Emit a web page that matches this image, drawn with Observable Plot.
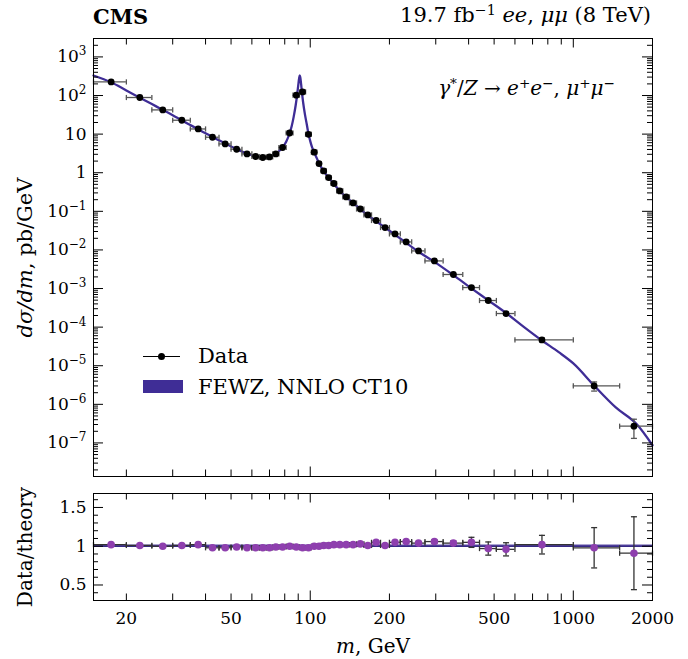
<!DOCTYPE html>
<html><head><meta charset="utf-8">
<script src="https://cdn.jsdelivr.net/npm/d3@7"></script>
<script src="https://cdn.jsdelivr.net/npm/@observablehq/plot@0.6"></script>
<style>
body{margin:0;background:#fff;}
#wrap{position:relative;width:688px;height:659px;font-family:"DejaVu Serif",serif;color:#000;overflow:hidden;}
#wrap svg{display:block}
.ov{position:absolute;white-space:nowrap;line-height:1;}
sup{font-size:0.68em;vertical-align:0.5em;line-height:0;}
#hdr{position:relative;height:28px;}
</style></head>
<body><div id="wrap">
<div id="hdr">
  <span class="ov" style="left:93px;top:6px;font-weight:bold;font-size:21px;">CMS</span>
  <span class="ov" style="right:37px;top:5px;font-size:21px;">19.7 fb<sup>−1</sup> <i>ee</i>, <i>μμ</i> (8 TeV)</span>
</div>
<div id="top"></div>
<div id="bot"></div>
<div class="ov" style="right:73px;top:78px;font-size:20px;"><i>γ</i><sup>*</sup>/<i>Z</i> → <i>e</i><sup>+</sup><i>e</i><sup>−</sup>, <i>μ</i><sup>+</sup><i>μ</i><sup>−</sup></div>
<div class="ov" style="left:143px;top:356px;width:37px;height:0;border-top:1.5px solid #000;"></div>
<div class="ov" style="left:158px;top:353px;width:7px;height:7px;border-radius:50%;background:#000;"></div>
<div class="ov" style="left:198px;top:346px;font-size:21px;">Data</div>
<div class="ov" style="left:143px;top:380px;width:40px;height:13px;background:#3f2d96;"></div>
<div class="ov" style="left:198px;top:377px;font-size:21px;">FEWZ, NNLO CT10</div>
</div>
<script>
// ---------------- data ----------------
const binEdges = [15,20,25,30,35,40,45,50,55,60,64,68,72,76,81,86,91,96,101,106,110,115,120,126,133,141,150,160,171,185,200,220,243,273,320,380,440,510,600,1000,1500,2000];
const binCenter = [17.5,22.5,27.5,32.5,37.5,42.5,47.5,52.5,57.5,62,66,70,74,78.5,83.5,88.5,93.5,98.5,103.5,108,112.5,117.5,123,129.5,137,145.5,155,165.5,178,192.5,210,231.5,258,296.5,350,410,475,555,760,1200,1700];
const xsecData = [225,88.8,42.4,22.9,13.6,8.3,5.57,4.06,3.07,2.63,2.48,2.57,3.07,4.5,10.7,102,124,9.9,3.4,1.73,1.11,0.75,0.525,0.338,0.236,0.165,0.115,0.0807,0.0578,0.038,0.026,0.0161,0.00942,0.00519,0.00231,0.00106,4.89e-4,2.25e-4,4.66e-5,3.0e-6,2.71e-7];
const ratioData = [1.02,1.01,1.00,1.01,1.02,0.98,0.98,0.99,0.98,0.98,0.98,0.98,0.99,0.99,1.00,0.99,0.98,0.98,1.00,1.00,1.01,1.01,1.02,1.02,1.02,1.02,1.03,1.01,1.05,1.01,1.05,1.06,1.04,1.06,1.04,1.05,0.97,0.96,1.02,0.98,0.91];
const ratioErr = [0.015,0.015,0.015,0.015,0.015,0.015,0.015,0.015,0.015,0.015,0.015,0.015,0.015,0.015,0.015,0.015,0.015,0.015,0.015,0.015,0.015,0.015,0.015,0.015,0.015,0.015,0.015,0.015,0.02,0.02,0.02,0.02,0.02,0.025,0.03,0.065,0.085,0.085,0.12,0.26,0.47];
const theoryMass = [15,17.5,20,22.5,25,27.5,30,32.5,35,37.5,40,42.5,45,47.5,50,52.5,55,57.5,60,62,64,66,68,70,72,74,76,78.5,81,83.5,85,86.5,88,89,90,90.8,91.2,91.6,92.3,93,94,95.5,97,98.5,100,101.5,103.5,106,108,110,112.5,117.5,123,129.5,137,145.5,155,165.5,178,192.5,210,231.5,258,296.5,350,410,475,555,650,760,880,1000,1200,1450,1750,2000];
const theoryXsec = [330,220,135,88,60,42.4,31,22.7,17.2,13.3,10.5,8.5,6.9,5.7,4.8,4.1,3.55,3.13,2.85,2.68,2.58,2.53,2.53,2.62,2.8,3.1,3.6,4.55,6.3,10.7,16,28,55,95,180,290,330,300,200,120,65,32,18,10,6.6,4.7,3.4,2.35,1.75,1.4,1.1,0.74,0.515,0.335,0.235,0.165,0.114,0.079,0.0555,0.038,0.0248,0.0153,0.009,0.0049,0.00222,0.00101,4.95e-4,2.32e-4,1.0e-4,4.5e-5,2.25e-5,1.15e-5,3.05e-6,8.3e-7,2.95e-7,8.7e-8];
const yTicksTop = [1e-7,1e-6,1e-5,1e-4,1e-3,1e-2,1e-1,1,10,100,1000];
const yTickLabelsTop = ["10^−7","10^−6","10^−5","10^−4","10^−3","10^−2","10^−1","1","10","10^2","10^3"];
const xTickLabels = [20,50,100,200,500,1000,2000];
const xMinorMarks = [20,30,40,50,60,70,80,90,200,300,400,500,600,700,800,900];
const xMajorMarks = [100,1000];
const yTicksRatio = [0.5,1,1.5];
const yTickLabelsRatio = ["0.5","1","1.5"];
const yMinorRatio = [0.4,0.6,0.7,0.8,0.9,1.1,1.2,1.3,1.4,1.6];
const ratioBand = [0.985,1.015];

// ---------------- layout ----------------
const W = 688, mL = 93, mR = 36;
const frameW = W - mL - mR;
const xDomain = [15, 2000];
const yDomainTop = [1.35e-8, 3000];
const yDomainRatio = [0.3, 1.68];
const FONT = "DejaVu Serif";
const theoryColor = "#3f2d96";
const purple = "#8e3fae";

const bins = binCenter.map((m, i) => ({
  m, lo: binEdges[i], hi: binEdges[i + 1],
  v: xsecData[i], r: ratioData[i],
  vlo: xsecData[i] * (1 - ratioErr[i] / ratioData[i]),
  vhi: xsecData[i] * (1 + ratioErr[i] / ratioData[i]),
  rlo: ratioData[i] - ratioErr[i], rhi: ratioData[i] + ratioErr[i]
}));
const theory = theoryMass.map((m, i) => ({m, v: theoryXsec[i]}));

const yMinorTop = [];
for (let k = -8; k <= 3; k++) for (let j = 2; j <= 9; j++) {
  const v = j * Math.pow(10, k);
  if (v >= yDomainTop[0] && v <= yDomainTop[1]) yMinorTop.push(v);
}

const vCap = {draw(ctx, size) { const h = Math.sqrt(size / Math.PI); ctx.moveTo(0, -h); ctx.lineTo(0, h); }};
const hCap = {draw(ctx, size) { const h = Math.sqrt(size / Math.PI); ctx.moveTo(-h, 0); ctx.lineTo(h, 0); }};

function frameTicks(frameH, yMajor, yMinor) {
  return [
    Plot.tickY(yMajor, {y: d => d, insetRight: frameW - 10, stroke: "black"}),
    Plot.tickY(yMajor, {y: d => d, insetLeft: frameW - 10, stroke: "black"}),
    Plot.tickY(yMinor, {y: d => d, insetRight: frameW - 5, stroke: "black"}),
    Plot.tickY(yMinor, {y: d => d, insetLeft: frameW - 5, stroke: "black"}),
    Plot.tickX(xMinorMarks, {x: d => d, insetTop: frameH - 6.5, stroke: "black"}),
    Plot.tickX(xMinorMarks, {x: d => d, insetBottom: frameH - 6.5, stroke: "black"}),
    Plot.tickX(xMajorMarks, {x: d => d, insetTop: frameH - 9.5, stroke: "black"}),
    Plot.tickX(xMajorMarks, {x: d => d, insetBottom: frameH - 9.5, stroke: "black"}),
  ];
}

// ---------------- top panel ----------------
const topH = 450, topMT = 10, topMB = 2;
const topPlot = Plot.plot({
  width: W, height: topH, marginLeft: mL, marginRight: mR, marginTop: topMT, marginBottom: topMB,
  style: {fontFamily: FONT, fontSize: "17px", background: "white", color: "black"},
  x: {type: "log", domain: xDomain, axis: null},
  y: {type: "log", domain: yDomainTop, ticks: yTicksTop, tickSize: 0, tickPadding: 7,
      tickFormat: d => yTickLabelsTop[yTicksTop.indexOf(d)] ?? "",
      label: "dσ/dm, pb/GeV", labelAnchor: "center", labelOffset: 76},
  marks: [
    Plot.line(theory, {x: "m", y: "v", stroke: theoryColor, strokeWidth: 2.3, curve: "monotone-x"}),
    Plot.ruleY(bins, {y: "v", x1: "lo", x2: "hi", stroke: "#555", strokeWidth: 1.3}),
    Plot.dot(bins, {x: "lo", y: "v", symbol: vCap, r: 2.6, stroke: "#555", fill: "none", strokeWidth: 1.3}),
    Plot.dot(bins, {x: "hi", y: "v", symbol: vCap, r: 2.6, stroke: "#555", fill: "none", strokeWidth: 1.3}),
    Plot.ruleX(bins, {x: "m", y1: "vlo", y2: "vhi", stroke: "#555", strokeWidth: 1.3}),
    Plot.dot(bins, {x: "m", y: "vlo", symbol: hCap, r: 3, stroke: "#555", fill: "none", strokeWidth: 1.3}),
    Plot.dot(bins, {x: "m", y: "vhi", symbol: hCap, r: 3, stroke: "#555", fill: "none", strokeWidth: 1.3}),
    Plot.dot(bins, {x: "m", y: "v", r: 3.4, fill: "black", stroke: "none"}),
    ...frameTicks(topH - topMT - topMB, yTicksTop, yMinorTop),
    Plot.frame({stroke: "black", strokeWidth: 1})
  ]
});
document.getElementById("top").appendChild(topPlot);

// ---------------- ratio panel ----------------
const botH = 181, botMT = 15, botMB = 59;
const botPlot = Plot.plot({
  width: W, height: botH, marginLeft: mL, marginRight: mR, marginTop: botMT, marginBottom: botMB,
  style: {fontFamily: FONT, fontSize: "17px", background: "white", color: "black", overflow: "visible"},
  x: {type: "log", domain: xDomain, ticks: xTickLabels, tickFormat: d => String(d), tickSize: 0, tickPadding: 11,
      label: "m, GeV", labelAnchor: "center", labelOffset: 52},
  y: {domain: yDomainRatio, ticks: yTicksRatio, tickSize: 0, tickPadding: 7,
      tickFormat: d => yTickLabelsRatio[yTicksRatio.indexOf(d)] ?? "",
      label: "Data/theory", labelAnchor: "center", labelOffset: 76},
  marks: [
    Plot.areaY(xDomain, {x: d => d, y1: () => ratioBand[0], y2: () => ratioBand[1], fill: theoryColor, fillOpacity: 0.85}),
    Plot.ruleY([1], {stroke: "#2a1d7a", strokeWidth: 1}),
    Plot.ruleY(bins, {y: "r", x1: "lo", x2: "hi", stroke: "#333", strokeWidth: 1.3}),
    Plot.dot(bins, {x: "lo", y: "r", symbol: vCap, r: 2.6, stroke: "#333", fill: "none", strokeWidth: 1.3}),
    Plot.dot(bins, {x: "hi", y: "r", symbol: vCap, r: 2.6, stroke: "#333", fill: "none", strokeWidth: 1.3}),
    Plot.ruleX(bins, {x: "m", y1: "rlo", y2: "rhi", stroke: "#333", strokeWidth: 1.3}),
    Plot.dot(bins, {x: "m", y: "rlo", symbol: hCap, r: 3, stroke: "#333", fill: "none", strokeWidth: 1.3}),
    Plot.dot(bins, {x: "m", y: "rhi", symbol: hCap, r: 3, stroke: "#333", fill: "none", strokeWidth: 1.3}),
    Plot.dot(bins, {x: "m", y: "r", r: 3.8, fill: purple, stroke: "none"}),
    ...frameTicks(botH - botMT - botMB, yTicksRatio, yMinorRatio),
    Plot.frame({stroke: "black", strokeWidth: 1})
  ]
});
document.getElementById("bot").appendChild(botPlot);

// ---------------- typography post-processing ----------------
const NS = "http://www.w3.org/2000/svg";
function rich(el, parts, size) {
  el.textContent = "";
  if (size) el.setAttribute("font-size", size);
  for (const p of parts) {
    const ts = document.createElementNS(NS, "tspan");
    ts.textContent = p.t;
    if (p.i) ts.setAttribute("font-style", "italic");
    if (p.sup) { ts.setAttribute("font-size", "12px"); ts.setAttribute("dy", "-7"); }
    el.appendChild(ts);
  }
}
for (const svg of [topPlot, botPlot]) {
  for (const t of svg.querySelectorAll("text")) {
    const s = t.textContent;
    if (s.includes("^")) {
      const [base, ex] = s.split("^");
      rich(t, [{t: base}, {t: ex, sup: true}]);
    } else if (s.includes("pb/GeV")) {
      rich(t, [{t: "dσ/dm", i: true}, {t: ", pb/GeV"}], "21px");
    } else if (s.includes("GeV")) {
      rich(t, [{t: "m", i: true}, {t: ", GeV"}], "20px");
    } else if (s.includes("Data/theory")) {
      rich(t, [{t: "Data/theory"}], "20px");
    }
  }
}
</script>
</body></html>
